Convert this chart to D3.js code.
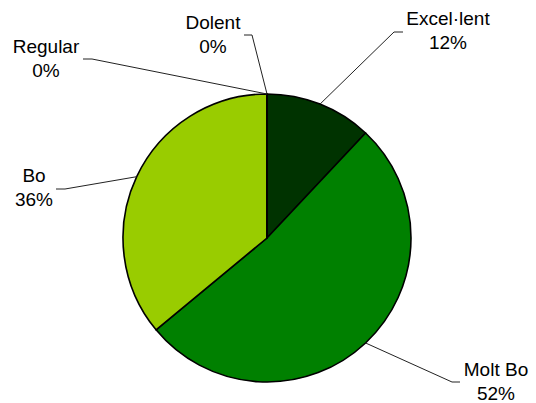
<!DOCTYPE html>
<html><head><meta charset="utf-8">
<script src="https://cdn.jsdelivr.net/npm/d3@7"></script>
<style>body{margin:0;background:#fff;}svg{display:block;}</style>
</head><body>
<script>
const categories = ["Excel·lent", "Molt Bo", "Bo", "Regular", "Dolent"];
const values = [12, 52, 36, 0, 0];
const colors = ["#003300", "#008000", "#99CC00", "#FFFFFF", "#FFFFFF"];

// label layout: text centre (x, first baseline), leader elbow point, leader end point
const labelLayout = [
  {tx: 448, ty: 25, ex: 394, ey: 32, hx: 403},
  {tx: 496, ty: 376, ex: 452, ey: 382, hx: 460},
  {tx: 34, ty: 182, ex: 65, ey: 189, hx: 56},
  {tx: 46, ty: 53, ex: 92, ey: 59, hx: 83},
  {tx: 213, ty: 29, ex: 252, ey: 35, hx: 244}
];

const W = 536, H = 403, cx = 267, cy = 238, R = 144;
const svg = d3.select("body").append("svg").attr("width", W).attr("height", H);
const total = d3.sum(values);
const pie = d3.pie().sort(null).value(d => d)(values);
const arc = d3.arc().innerRadius(0).outerRadius(R);
const g = svg.append("g").attr("transform", `translate(${cx},${cy})`);

g.selectAll("path").data(pie).join("path")
  .attr("d", arc)
  .attr("fill", (d, i) => colors[i])
  .attr("stroke", "#000")
  .attr("stroke-width", 1.6)
  .attr("stroke-linejoin", "round");

pie.forEach((d, i) => {
  const a = (d.startAngle + d.endAngle) / 2;
  const sx = cx + R * Math.sin(a), sy = cy - R * Math.cos(a);
  const L = labelLayout[i];
  svg.append("polyline")
    .attr("points", `${sx},${sy} ${L.ex},${L.ey} ${L.hx},${L.ey}`)
    .attr("fill", "none").attr("stroke", "#222").attr("stroke-width", 1);
  const t = svg.append("text")
    .attr("x", L.tx).attr("y", L.ty)
    .attr("text-anchor", "middle")
    .attr("font-family", "Liberation Sans, Arial, sans-serif")
    .attr("font-size", 19).attr("fill", "#000");
  t.append("tspan").attr("x", L.tx).text(categories[i]);
  t.append("tspan").attr("x", L.tx).attr("dy", 24)
    .text(Math.round(values[i] / total * 100) + "%");
});
</script>
</body></html>
